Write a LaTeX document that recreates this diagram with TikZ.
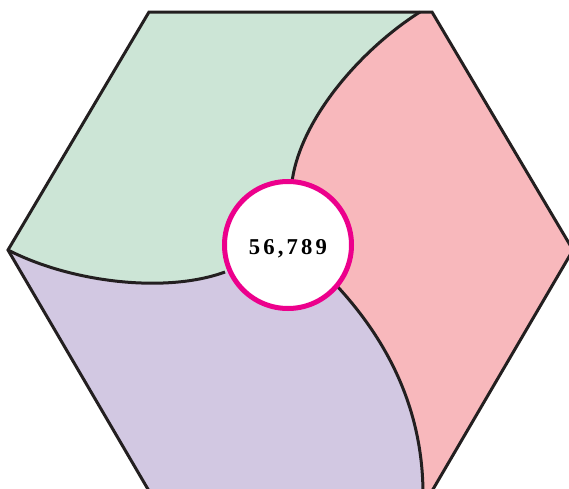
\documentclass[tikz,border=0pt]{standalone}
\usepackage{fontspec}
\setmainfont{Liberation Serif}
\newfontfamily\countfont[LetterSpace=14]{Liberation Serif}

\tikzset{every picture/.style={line width=0.75pt}}

\begin{document}
\begin{tikzpicture}[x=0.75pt,y=0.75pt,yscale=-1,xscale=1]
\useasboundingbox (0,0) rectangle (569,489);

%Hexagon corners and where the curves meet
\coordinate (tl) at (149,12);
\coordinate (tr) at (432,12);
\coordinate (rt) at (573,250);
\coordinate (br) at (432,491);
\coordinate (bl) at (149,491);
\coordinate (lf) at (8,250);
\coordinate (ctr) at (288,245);
\coordinate (topend) at (420,12);
\coordinate (topin) at (292,182);
\coordinate (leftin) at (225,272);
\coordinate (botin) at (337,286);
\coordinate (botend) at (423,491);

%Shape: Hexagon fill (purple part)
\fill [color={rgb, 255:red, 210; green, 200; blue, 226 }] (tl) -- (tr) -- (rt) -- (br) -- (bl) -- (lf) -- cycle ;
%Shape: green part
\fill [color={rgb, 255:red, 204; green, 229; blue, 214 }] (lf) -- (tl) -- (topend) .. controls (360,50) and (300,120) .. (topin) -- (ctr) -- (leftin) .. controls (165,294) and (70,282) .. (lf) -- cycle ;
%Shape: pink part
\fill [color={rgb, 255:red, 248; green, 184; blue, 188 }] (topend) -- (tr) -- (rt) -- (br) -- (botend) .. controls (422,405) and (385,338) .. (botin) -- (ctr) -- (topin) .. controls (300,120) and (360,50) .. (topend) -- cycle ;

%Curve Lines
\draw [color={rgb, 255:red, 35; green, 31; blue, 32 }, line width=2.25] (topend) .. controls (360,50) and (300,120) .. (topin) ;
%Curve Lines
\draw [color={rgb, 255:red, 35; green, 31; blue, 32 }, line width=2.25] (lf) .. controls (70,282) and (165,294) .. (leftin) ;
%Curve Lines
\draw [color={rgb, 255:red, 35; green, 31; blue, 32 }, line width=2.25] (botin) .. controls (385,338) and (422,405) .. (botend) ;
%Shape: Hexagon outline
\draw [color={rgb, 255:red, 35; green, 31; blue, 32 }, line width=2.25, line join=miter] (tl) -- (tr) -- (rt) -- (br) -- (bl) -- (lf) -- cycle ;

% Circle Node
\node (count) [circle, draw={rgb, 255:red, 236; green, 0; blue, 140 }, line width=3.75, fill=white, minimum size=95.25pt, inner sep=0pt] at (ctr) {};
% Text Node
\node (value) [inner sep=0pt, font=\countfont\fontsize{17}{20}\selectfont\bfseries, yshift=-2.5pt] at (count.center) {56,789};

\end{tikzpicture}
\end{document}
